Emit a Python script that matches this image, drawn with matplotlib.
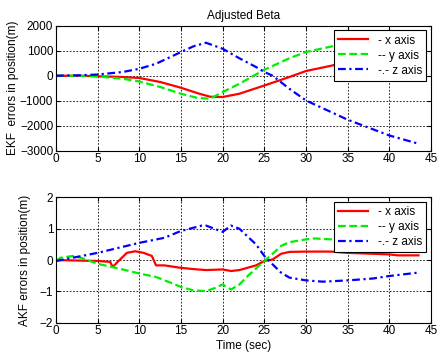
import matplotlib
matplotlib.use('Agg')
import matplotlib.pyplot as plt
import numpy as np

plt.rcParams['font.family'] = ['Liberation Sans', 'DejaVu Sans']
plt.rcParams['font.size'] = 8

# EKF position errors (m)
t_ekf_x = [0, 3, 5, 8, 10, 12.5, 15, 17, 18.5, 20, 22, 25, 28, 30, 33, 34.5, 38, 41, 43.5]
ekf_x = [0, 0, -20, -50, -90, -250, -480, -700, -840, -850, -720, -390, -50, 190, 400, 510, 680, 820, 920]
t_ekf_y = [0, 3, 5, 8, 10, 12.5, 15, 17, 18.5, 20, 22, 25, 28, 30, 34, 37, 40, 43.5]
ekf_y = [0, -5, -30, -120, -230, -450, -720, -890, -920, -650, -320, 240, 700, 950, 1240, 1420, 1560, 1700]
t_ekf_z = [0, 3, 5, 8, 10, 12, 15, 16.5, 18, 20, 22, 24, 25, 26, 28, 30, 35, 40, 43.5]
ekf_z = [0, 20, 50, 150, 280, 480, 950, 1180, 1320, 1080, 700, 350, 150, 0, -520, -990, -1760, -2390, -2720]

# AKF position errors (m)
t_akf_x = [0, 5, 6.5, 6.8, 7.5, 8.5, 9.5, 10.5, 11.5, 12, 13, 15, 17, 18, 20, 21, 22, 24, 25, 26,
           27, 28, 30, 33, 35, 38, 40, 41, 43.5]
akf_x = [0, -0.03, -0.06, -0.22, -0.03, 0.23, 0.28, 0.23, 0.13, -0.17, -0.17, -0.25, -0.3, -0.32,
         -0.3, -0.35, -0.32, -0.17, -0.03, 0.02, 0.2, 0.26, 0.27, 0.27, 0.23, 0.2, 0.18, 0.15, 0.15]
t_akf_y = [0, 0.5, 2, 3, 5, 8, 10, 12, 14, 15, 16.5, 18, 19, 20, 21, 22, 23, 24, 25, 26, 27, 28,
           30, 31, 33, 34, 37, 40, 43.5]
akf_y = [-0.03, 0.07, 0.13, 0.07, -0.12, -0.3, -0.43, -0.54, -0.75, -0.86, -0.97, -0.99, -0.9,
         -0.78, -0.94, -0.78, -0.51, -0.27, -0.03, 0.2, 0.45, 0.57, 0.66, 0.69, 0.66, 0.63, 0.6,
         0.57, 0.55]
t_akf_z = [0, 5, 10, 13, 15, 17.5, 18, 20, 21, 22, 24, 25, 26, 27, 28, 30, 32, 35, 38, 40, 43.5]
akf_z = [-0.03, 0.23, 0.55, 0.71, 0.93, 1.1, 1.1, 0.9, 1.1, 1.0, 0.5, 0.13, -0.14, -0.4, -0.56,
         -0.65, -0.69, -0.65, -0.59, -0.51, -0.4]

labels = ['- x axis', '-- y axis', '-.- z axis']
colors = ['red', '#00ee00', 'blue']
dashes = ['-', (0, (3.5, 1.6)), (0, (3.5, 1.6, 1.0, 1.6))]

fig = plt.figure(figsize=(4.38, 3.58), dpi=100)
ax1 = fig.add_axes([0.128, 0.579, 0.856, 0.349])
ax2 = fig.add_axes([0.128, 0.0986, 0.856, 0.350])


def style(ax):
    ax.grid(True, color='black', linestyle=(0, (2, 2)), linewidth=0.6)
    ax.set_xlim(0, 45)
    ax.set_xticks(np.arange(0, 46, 5))
    ax.tick_params(direction='in', top=True, right=True, length=3, pad=2, labelsize=8.5)
    for s in ax.spines.values():
        s.set_linewidth(0.8)
    leg = ax.legend(loc='upper right', fancybox=False, edgecolor='black', framealpha=1,
                    borderaxespad=0.4, handlelength=2.6, fontsize=8.5,
                    labelspacing=0.25, borderpad=0.35)
    leg.get_frame().set_linewidth(0.8)


def draw(ax, ts, ys):
    for t, y, c, d, lab in zip(ts, ys, colors, dashes, labels):
        ax.plot(t, y, color=c, linestyle=d, linewidth=1.6, label=lab)


draw(ax1, [t_ekf_x, t_ekf_y, t_ekf_z], [ekf_x, ekf_y, ekf_z])
ax1.set_ylim(-3000, 2000)
ax1.set_yticks(np.arange(-3000, 2001, 1000))
ax1.set_ylabel('EKF  errors in position(m)', labelpad=1, fontsize=8.5)
ax1.set_title('Adjusted Beta', fontsize=8.5, pad=5)
style(ax1)

draw(ax2, [t_akf_x, t_akf_y, t_akf_z], [akf_x, akf_y, akf_z])
ax2.set_ylim(-2, 2)
ax2.set_yticks([-2, -1, 0, 1, 2])
ax2.set_ylabel('AKF errors in position(m)', labelpad=6, fontsize=8.5)
ax2.set_xlabel('Time (sec)', labelpad=2, fontsize=8.5)
style(ax2)

fig.savefig('out.png', dpi=100)
